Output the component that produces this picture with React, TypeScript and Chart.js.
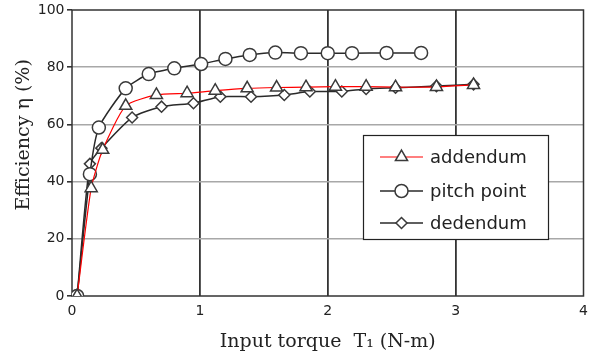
import React, { useEffect, useRef } from 'react';
import { Chart, registerables } from 'chart.js';

Chart.register(...registerables);

const addendumX = [0.04, 0.15, 0.24, 0.42, 0.66, 0.9, 1.12, 1.37, 1.6, 1.83, 2.06, 2.3, 2.53, 2.85, 3.14];
const addendumY = [0, 37.7, 51.1, 66.5, 70.3, 70.9, 71.8, 72.6, 72.9, 73.0, 73.2, 73.2, 73.0, 73.1, 73.8];

const pitchX = [0.04, 0.14, 0.21, 0.42, 0.6, 0.8, 1.01, 1.2, 1.39, 1.59, 1.79, 2.0, 2.19, 2.46, 2.73];
const pitchY = [0, 42.6, 58.9, 72.6, 77.6, 79.6, 81.1, 82.9, 84.3, 85.1, 84.9, 84.9, 84.9, 85.0, 85.0];

const dedendumX = [0.04, 0.14, 0.23, 0.47, 0.7, 0.95, 1.16, 1.4, 1.66, 1.86, 2.11, 2.3, 2.53, 2.85, 3.14];
const dedendumY = [0, 46.2, 51.7, 62.4, 66.2, 67.4, 69.7, 69.7, 70.3, 71.5, 71.5, 72.4, 72.8, 73.4, 74.0];

const seriesNames = ['addendum', 'pitch point', 'dedendum'];
const xTitle = 'Input torque  T\u2081 (N-m)';
const yTitle = '      Efficiency \u03b7 (%)';

const MARK = '#3a3a3a';
const LINE = '#2a2a2a';
const RED = '#ff0000';

type Style = { pointStyle: string; radius: number; line: string };
const styles: Style[] = [
  { pointStyle: 'triangle', radius: 7, line: RED },
  { pointStyle: 'circle', radius: 6.5, line: LINE },
  { pointStyle: 'rectRot', radius: 5.5, line: LINE },
];

function drawMarker(ctx: CanvasRenderingContext2D, style: string, r: number, x: number, y: number) {
  ctx.beginPath();
  if (style === 'circle') {
    ctx.arc(x, y, r, 0, Math.PI * 2);
  } else if (style === 'triangle') {
    for (let i = 0; i < 3; i++) {
      const a = -Math.PI / 2 + (i * 2 * Math.PI) / 3;
      const px = x + Math.cos(a) * r;
      const py = y + Math.sin(a) * r;
      if (i === 0) ctx.moveTo(px, py);
      else ctx.lineTo(px, py);
    }
  } else {
    ctx.moveTo(x, y - r);
    ctx.lineTo(x + r, y);
    ctx.lineTo(x, y + r);
    ctx.lineTo(x - r, y);
  }
  ctx.closePath();
  ctx.fillStyle = '#ffffff';
  ctx.fill();
  ctx.lineWidth = 1.5;
  ctx.strokeStyle = MARK;
  ctx.stroke();
}

const framePlugin = {
  id: 'frame',
  beforeDatasetsDraw(chart: any) {
    const { ctx, chartArea } = chart;
    ctx.save();
    ctx.strokeStyle = '#333333';
    ctx.lineWidth = 1.5;
    ctx.strokeRect(chartArea.left, chartArea.top, chartArea.right - chartArea.left, chartArea.bottom - chartArea.top);
    ctx.restore();
  },
};

const legendPlugin = {
  id: 'boxLegend',
  afterDatasetsDraw(chart: any) {
    const { ctx } = chart;
    const bx = 363, by = 135, bw = 185, bh = 104;
    ctx.save();
    ctx.fillStyle = '#ffffff';
    ctx.fillRect(bx, by, bw, bh);
    ctx.strokeStyle = '#222222';
    ctx.lineWidth = 1.2;
    ctx.strokeRect(bx + 0.5, by + 0.5, bw, bh);
    const rows = [157, 191, 223];
    seriesNames.forEach((name, i) => {
      const y = rows[i];
      const st = styles[i];
      ctx.beginPath();
      ctx.moveTo(380, y);
      ctx.lineTo(423, y);
      ctx.strokeStyle = st.line;
      ctx.lineWidth = i === 0 ? 1.2 : 1.5;
      ctx.stroke();
      drawMarker(ctx, st.pointStyle, st.radius, 401.5, y);
      ctx.fillStyle = '#222222';
      ctx.font = '18px "DejaVu Sans"';
      ctx.textAlign = 'left';
      ctx.textBaseline = 'middle';
      ctx.fillText(name, 430, y + 1);
    });
    ctx.restore();
  },
};

function pts(xs: number[], ys: number[]) {
  return xs.map((x, i) => ({ x, y: ys[i] }));
}

export default function App() {
  const ref = useRef<HTMLCanvasElement>(null);
  useEffect(() => {
    document.body.style.margin = '0';
    const canvas = ref.current;
    if (!canvas) return;
    const data = [pts(addendumX, addendumY), pts(pitchX, pitchY), pts(dedendumX, dedendumY)];
    const chart = new Chart(canvas, {
      type: 'scatter',
      data: {
        datasets: data.map((d, i) => ({
          label: seriesNames[i],
          data: d,
          showLine: true,
          borderColor: styles[i].line,
          borderWidth: i === 0 ? 1.2 : 1.5,
          tension: 0.2,
          pointStyle: styles[i].pointStyle,
          pointRadius: styles[i].radius,
          pointBackgroundColor: '#ffffff',
          pointBorderColor: MARK,
          pointBorderWidth: 1.5,
        })),
      },
      options: {
        responsive: false,
        animation: false,
        devicePixelRatio: 1,
        layout: { padding: { top: 10, right: 7, left: 0, bottom: 0 } },
        plugins: { legend: { display: false }, tooltip: { enabled: false } },
        scales: {
          x: {
            type: 'linear',
            min: 0,
            max: 4,
            ticks: { stepSize: 1, padding: 7, color: '#222', font: { family: 'DejaVu Sans', size: 14 } },
            grid: {
              color: (c: any) => (c.tick && (c.tick.value === 0 || c.tick.value === 4) ? 'rgba(0,0,0,0)' : '#333333'),
              lineWidth: 1.8,
              drawTicks: false,
            },
            border: { display: false },
            title: {
              display: true,
              text: xTitle,
              color: '#222',
              font: { family: 'DejaVu Serif', size: 19 },
              padding: { top: 0, bottom: 5.5 },
            },
            afterFit: (s: any) => {
              s.height = 63;
              s.paddingLeft = 0;
              s.paddingRight = 0;
            },
          },
          y: {
            type: 'linear',
            min: 0,
            max: 100,
            ticks: { stepSize: 20, padding: 2.5, color: '#222', font: { family: 'DejaVu Sans', size: 14 } },
            grid: {
              color: (c: any) => (c.tick && (c.tick.value === 0 || c.tick.value === 100) ? 'rgba(0,0,0,0)' : '#a8a8a8'),
              lineWidth: 1.6,
              tickLength: 5,
              tickColor: '#333333',
            },
            border: { display: false },
            title: {
              display: true,
              text: yTitle,
              color: '#222',
              font: { family: 'DejaVu Serif', size: 19 },
              padding: { top: 12.5, bottom: 0 },
            },
            afterFit: (s: any) => {
              s.width = 72;
              s.paddingTop = 0;
              s.paddingBottom = 0;
            },
          },
        },
      },
      plugins: [framePlugin, legendPlugin],
    } as any);
    return () => chart.destroy();
  }, []);
  return (
    <div style={{ width: 592, height: 359 }}>
      <canvas ref={ref} width={592} height={359} style={{ display: 'block' }} />
    </div>
  );
}
